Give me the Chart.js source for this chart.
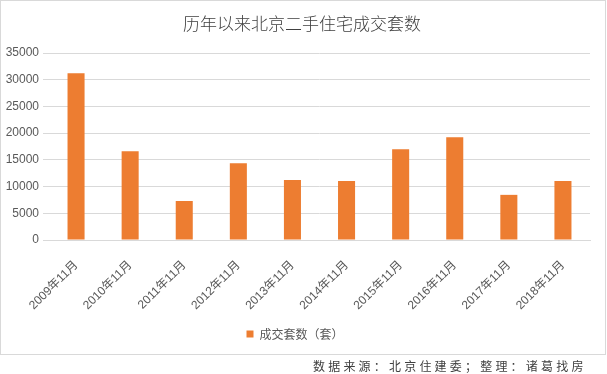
<!DOCTYPE html>
<html>
<head>
<meta charset="utf-8">
<style>
  html, body { margin: 0; padding: 0; background: #fff; }
  #wrap { width: 607px; height: 374px; }
</style>
<script src="https://cdn.jsdelivr.net/npm/chart.js@4/dist/chart.umd.min.js"></script>
</head>
<body>
<div id="wrap"><canvas id="chart" width="607" height="374"></canvas></div>
<script>
// ==== Data ====
const years = ["2009年11月", "2010年11月", "2011年11月", "2012年11月", "2013年11月",
               "2014年11月", "2015年11月", "2016年11月", "2017年11月", "2018年11月"];
const deals = [31200, 16600, 7300, 14350, 11250, 11050, 17000, 19250, 8450, 11050];
const yTicks = [0, 5000, 10000, 15000, 20000, 25000, 30000, 35000];

const titleText = "历年以来北京二手住宅成交套数";
const seriesName = "成交套数（套）";
const footerText = "数据来源：北京住建委；整理：诸葛找房";

const fontStack = '"Liberation Sans", "Noto Sans CJK SC", sans-serif';
Chart.defaults.font.family = fontStack;
Chart.defaults.color = "#595959";

// ==== Frame, title and footer ====
const decor = {
  id: "decor",
  beforeDraw(chart) {
    const ctx = chart.ctx;
    ctx.save();
    ctx.fillStyle = "#fff";
    ctx.fillRect(0, 0, chart.width, chart.height);
    ctx.strokeStyle = "#d9d9d9";
    ctx.lineWidth = 1;
    ctx.strokeRect(0.5, 0.5, 605, 354);
    ctx.restore();
  },
  afterDraw(chart) {
    const ctx = chart.ctx;
    ctx.save();
    ctx.fillStyle = "#404040";
    ctx.textBaseline = "middle";
    ctx.textAlign = "center";
    ctx.font = '300 17px "Noto Sans CJK SC", sans-serif';
    ctx.fillText(titleText, 302, 24);

    // footer, spaced out like the original
    ctx.font = '12px "Noto Sans CJK SC", sans-serif';
    ctx.fillStyle = "#404040";
    const chars = Array.from(footerText);
    const step = 15.2;
    chars.forEach((c, i) => ctx.fillText(c, 319 + i * step, 366));
    ctx.restore();
  }
};

new Chart(document.getElementById("chart"), {
  type: "bar",
  data: {
    labels: years,
    datasets: [{
      label: seriesName,
      data: deals,
      backgroundColor: "#ED7D31",
      categoryPercentage: 1,
      barPercentage: 0.315
    }]
  },
  options: {
    responsive: false,
    animation: false,
    layout: { padding: { left: 0, right: 17, top: 53, bottom: 24 } },
    plugins: {
      title: { display: false },
      tooltip: { enabled: false },
      legend: {
        position: "bottom",
        labels: {
          boxWidth: 7,
          boxHeight: 7,
          padding: 10,
          color: "#595959",
          font: { size: 12, family: '"Noto Sans CJK SC", sans-serif' }
        }
      }
    },
    scales: {
      x: {
        grid: { display: false },
        border: { display: true, color: "#d9d9d9" },
        ticks: {
          minRotation: 45,
          maxRotation: 45,
          padding: 10,
          color: "#595959",
          font: { size: 12 }
        },
        afterFit(scale) { scale.height = 78; }
      },
      y: {
        min: 0,
        max: 35000,
        afterBuildTicks(scale) { scale.ticks = yTicks.map(v => ({ value: v })); },
        grid: { color: "#d9d9d9", tickLength: 6 },
        border: { display: false },
        ticks: {
          padding: 4,
          color: "#595959",
          font: { size: 12 },
          callback: v => String(v)
        },
        afterFit(scale) { scale.width = 49; }
      }
    }
  },
  plugins: [decor]
});
</script>
</body>
</html>
